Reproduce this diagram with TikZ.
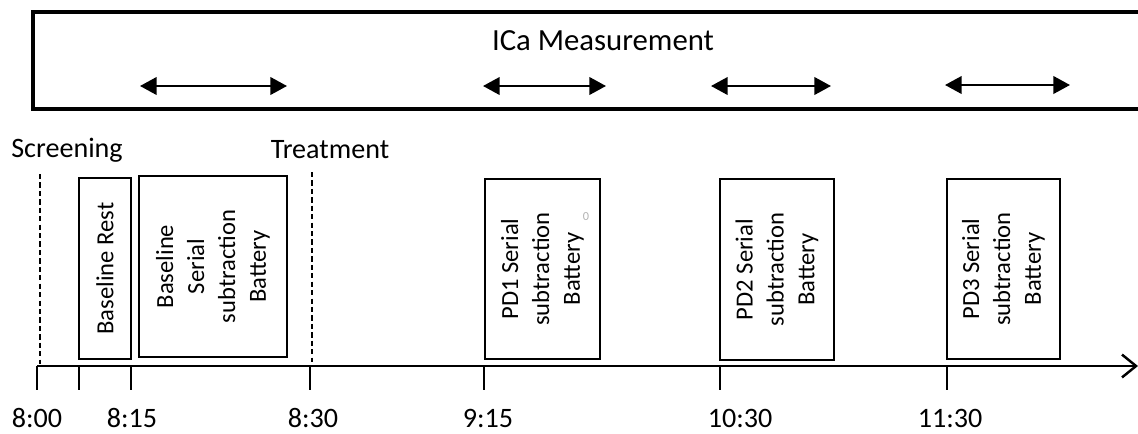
\documentclass[tikz,border=0pt]{standalone}
\usepackage{fontspec}
\setmainfont{Carlito}
\usetikzlibrary{arrows.meta}
\begin{document}
\begin{tikzpicture}[x=0.02cm, y=-0.02cm,
    stagebox/.style={draw, line width=1.5pt, rotate=90, align=center, inner sep=0pt,
      font=\fontsize{14}{17.6}\selectfont},
    window/.style={{Triangle[length=9.5pt,width=10pt]}-{Triangle[length=9.5pt,width=10pt]}, line width=1.3pt},
    marker/.style={dash pattern=on 3pt off 1.8pt, line width=1pt},
    clock/.style={font=\fontsize{16}{19}\selectfont}]
    \useasboundingbox (0,0) rectangle (1138,433);

    % measurement band
    \draw [line width=2pt] (33,12) rectangle (1160,109);
    \node [font=\fontsize{17.5}{21}\selectfont] (ica) at (603,41) {ICa Measurement};
    \coordinate (w1a) at (140,86); \coordinate (w1b) at (287,86);
    \coordinate (w2a) at (483,86); \coordinate (w2b) at (606,86);
    \coordinate (w3a) at (711,86); \coordinate (w3b) at (831,86);
    \coordinate (w4a) at (945,85); \coordinate (w4b) at (1070,85);
    \draw [window] (w1a) -- (w1b);
    \draw [window] (w2a) -- (w2b);
    \draw [window] (w3a) -- (w3b);
    \draw [window] (w4a) -- (w4b);

    % stages
    \node [stagebox, minimum width=3.62cm, minimum height=1.04cm] (rest) at (105,268.5) {Baseline Rest};
    \node [stagebox, minimum width=3.62cm, minimum height=2.96cm] (base) at (213,266.5) {Baseline\\Serial\\subtraction\\Battery};
    \node [stagebox, minimum width=3.6cm, minimum height=2.3cm] (pd1) at (542.5,269) {PD1 Serial\\subtraction\\Battery};
    \node [stagebox, minimum width=3.62cm, minimum height=2.28cm] (pd2) at (777,269.5) {PD2 Serial\\subtraction\\Battery};
    \node [stagebox, minimum width=3.6cm, minimum height=2.26cm] (pd3) at (1003.5,269) {PD3 Serial\\subtraction\\Battery};
    \node [text=gray!60, font=\fontsize{7}{8}\selectfont, inner sep=0pt] (mark) at (586,217) {0};

    % time axis
    \coordinate (start) at (37,366);
    \coordinate (end) at (1138,366);
    \draw [line width=1.4pt, -{Straight Barb[length=8pt,width=13pt]}] (start) -- (end);
    \foreach \x in {37,79,131,310,484,720,947}
      \draw [line width=1.4pt] (\x,366) -- (\x,390);

    \foreach \x/\t/\dx in {37/8:00/0, 131/8:15/1, 310/8:30/3, 484/9:15/4, 720/10:30/20, 947/11:30/3}
      \node [clock] (t\x) at (\x+\dx,418) {\t};

    % screening and treatment
    \node [clock] (screen) at (67,150) {Screening};
    \node [clock] (treat) at (330,150) {Treatment};
    \coordinate (s1) at (40,174); \coordinate (s2) at (40,364);
    \coordinate (r1) at (312,172); \coordinate (r2) at (312,362);
    \draw [marker] (s1) -- (s2);
    \draw [marker] (r1) -- (r2);
\end{tikzpicture}
\end{document}
